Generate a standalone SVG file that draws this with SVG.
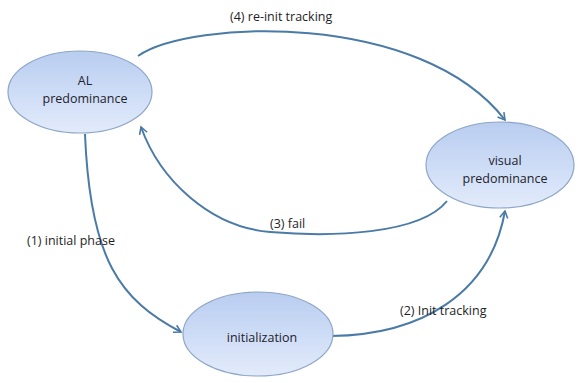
<svg xmlns="http://www.w3.org/2000/svg" width="578" height="383" viewBox="0 0 578 383">
<defs>
<linearGradient id="g" x1="0" y1="0" x2="0" y2="1">
<stop offset="0" stop-color="#b9cdf0"/>
<stop offset="0.5" stop-color="#cddcf6"/>
<stop offset="1" stop-color="#e2ebfa"/>
</linearGradient>
<marker id="a" viewBox="0 0 10 10" refX="8" refY="5" markerWidth="5" markerHeight="5" orient="auto">
<path d="M1,1 L8,5 L1,9" fill="none" stroke="#4a7aa6" stroke-width="1.6"/>
</marker>
</defs>
<style>
.n{fill:url(#g);stroke:#8da6c6;stroke-width:1.2}
.t{font-family:"Open Sans","Liberation Sans",sans-serif;font-size:12.5px;fill:#22222c;text-anchor:middle}
.l{font-family:"Open Sans","Liberation Sans",sans-serif;font-size:12.5px;fill:#1e1e1e}
.e{fill:none;stroke:#4a7aa6;stroke-width:2;marker-end:url(#a)}
</style>
<rect width="578" height="383" fill="#fff"/>
<g id="connectors">
<path class="e" d="M138,56 C190,20 420,10 505,120"/>
<path class="e" d="M447,201 C420,235 330,237 270,232 C210,227 160,180 141,127"/>
<path class="e" d="M85,134 C90,260 120,300 181,332"/>
<path class="e" d="M331,336 C420,335 490,295 505,211"/>
</g>
<g id="al"><ellipse class="n" cx="80" cy="92" rx="72" ry="41"/><text class="t" x="85" y="85">AL</text><text class="t" x="85" y="103">predominance</text></g>
<g id="visual"><ellipse class="n" cx="500" cy="165" rx="74" ry="43"/><text class="t" x="505" y="165">visual</text><text class="t" x="505" y="183">predominance</text></g>
<g id="init"><ellipse class="n" cx="258" cy="334" rx="75" ry="42"/><text class="t" x="262" y="342">initialization</text></g>
<g id="labels">
<text class="l" x="230" y="21">(4) re-init tracking</text>
<text class="l" x="270" y="228">(3) fail</text>
<text class="l" x="27" y="245">(1) initial phase</text>
<text class="l" x="400" y="315">(2) Init tracking</text>
</g>
</svg>
